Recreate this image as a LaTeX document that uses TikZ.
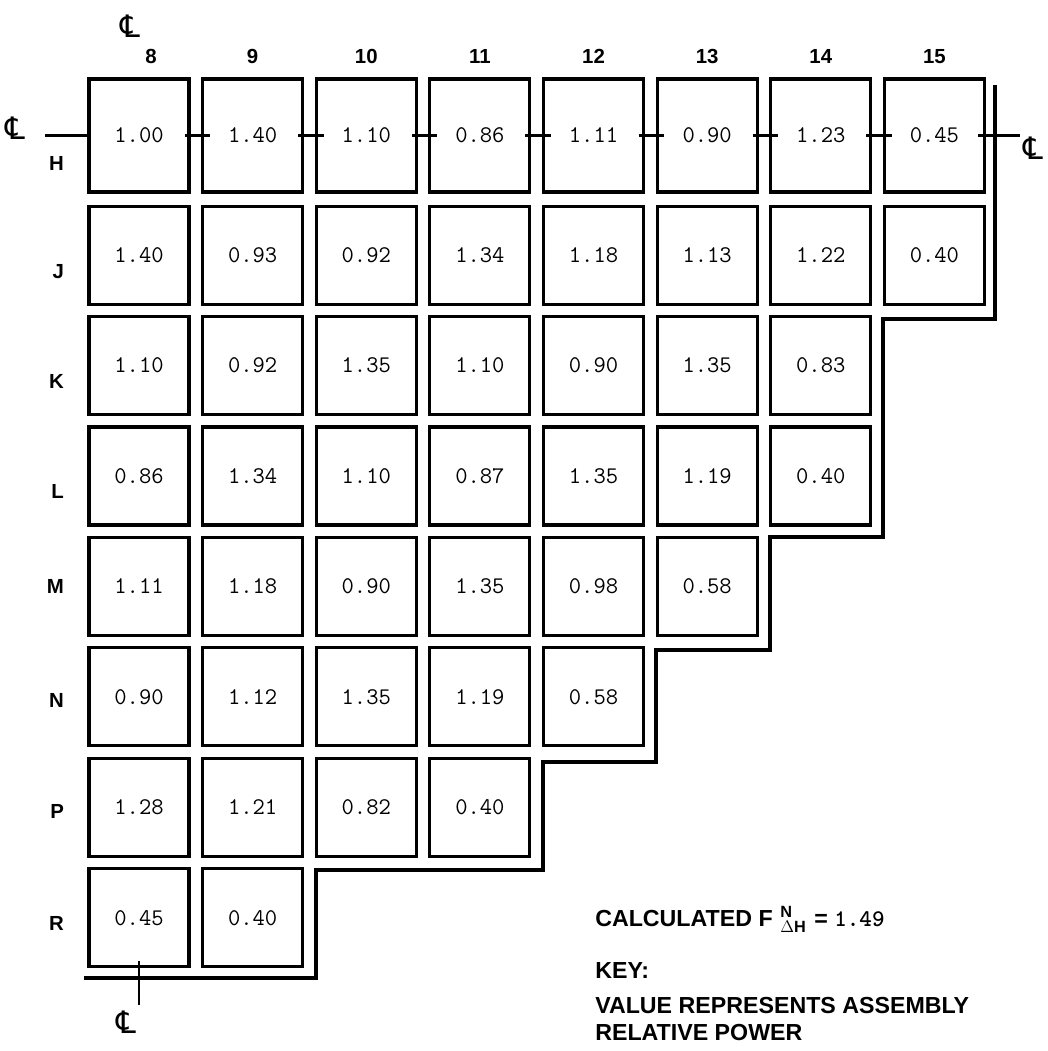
\documentclass[tikz,border=0pt]{standalone}
\usepackage{amsmath}
\usepackage{fontspec}
\setsansfont{Liberation Sans}
\newfontfamily\clfont{DejaVu Sans}
\usetikzlibrary{calc,positioning}

\begin{document}
\begin{tikzpicture}[x=0.025cm, y=-0.025cm, on grid,
			cell/.style={draw, line width=2.2pt, minimum width=2.5cm, minimum height=2.45cm, inner sep=0pt, font=\fontsize{17}{20}\selectfont\ttfamily, node distance={2.76cm and 2.84cm}},
			hcell/.style={cell, minimum height=2.825cm},
			collabel/.style={font=\sffamily\bfseries\fontsize{14.5}{16}\selectfont, inner sep=0pt},
			rowlabel/.style={font=\sffamily\bfseries\fontsize{14.5}{16}\selectfont, inner sep=0pt},
			clsym/.style={font=\clfont\fontsize{22}{24}\selectfont, inner sep=0pt},
			cline/.style={line width=2pt},
			baffle/.style={line width=2.2pt},
			keytext/.style={font=\sffamily\bfseries\fontsize{16.5}{19}\selectfont, inner sep=0pt}
			]
			\useasboundingbox (0,0) rectangle (1047,1051);
			% row H
			\node [hcell] (h8) at (139,135.5) {1.00};
			\node [hcell, right=of h8] (h9) {1.40};
			\node [hcell, right=of h9] (h10) {1.10};
			\node [hcell, right=of h10] (h11) {0.86};
			\node [hcell, right=of h11] (h12) {1.11};
			\node [hcell, right=of h12] (h13) {0.90};
			\node [hcell, right=of h13] (h14) {1.23};
			\node [hcell, right=of h14] (h15) {0.45};
			% row J
			\node [cell, below=2.99cm of h8] (j8) {1.40};
			\node [cell, right=of j8] (j9) {0.93};
			\node [cell, right=of j9] (j10) {0.92};
			\node [cell, right=of j10] (j11) {1.34};
			\node [cell, right=of j11] (j12) {1.18};
			\node [cell, right=of j12] (j13) {1.13};
			\node [cell, right=of j13] (j14) {1.22};
			\node [cell, right=of j14] (j15) {0.40};
			% row K
			\node [cell, below=of j8] (k8) {1.10};
			\node [cell, right=of k8] (k9) {0.92};
			\node [cell, right=of k9] (k10) {1.35};
			\node [cell, right=of k10] (k11) {1.10};
			\node [cell, right=of k11] (k12) {0.90};
			\node [cell, right=of k12] (k13) {1.35};
			\node [cell, right=of k13] (k14) {0.83};
			% row L
			\node [cell, below=of k8] (l8) {0.86};
			\node [cell, right=of l8] (l9) {1.34};
			\node [cell, right=of l9] (l10) {1.10};
			\node [cell, right=of l10] (l11) {0.87};
			\node [cell, right=of l11] (l12) {1.35};
			\node [cell, right=of l12] (l13) {1.19};
			\node [cell, right=of l13] (l14) {0.40};
			% row M
			\node [cell, below=of l8] (m8) {1.11};
			\node [cell, right=of m8] (m9) {1.18};
			\node [cell, right=of m9] (m10) {0.90};
			\node [cell, right=of m10] (m11) {1.35};
			\node [cell, right=of m11] (m12) {0.98};
			\node [cell, right=of m12] (m13) {0.58};
			% row N
			\node [cell, below=of m8] (n8) {0.90};
			\node [cell, right=of n8] (n9) {1.12};
			\node [cell, right=of n9] (n10) {1.35};
			\node [cell, right=of n10] (n11) {1.19};
			\node [cell, right=of n11] (n12) {0.58};
			% row P
			\node [cell, below=of n8] (p8) {1.28};
			\node [cell, right=of p8] (p9) {1.21};
			\node [cell, right=of p9] (p10) {0.82};
			\node [cell, right=of p10] (p11) {0.40};
			% row R
			\node [cell, below=of p8] (r8) {0.45};
			\node [cell, right=of r8] (r9) {0.40};

			% column and row labels
			\node [collabel, above=0.33cm of h8.north, xshift=0.3cm] (c8) {8};
			\node [collabel, above=0.33cm of h9.north] (c9) {9};
			\node [collabel, above=0.33cm of h10.north] (c10) {10};
			\node [collabel, above=0.33cm of h11.north] (c11) {11};
			\node [collabel, above=0.33cm of h12.north] (c12) {12};
			\node [collabel, above=0.33cm of h13.north] (c13) {13};
			\node [collabel, above=0.33cm of h14.north] (c14) {14};
			\node [collabel, above=0.33cm of h15.north] (c15) {15};
			\node [rowlabel, left=0.58cm of h8.west, yshift=-0.7cm] (rh) {H};
			\node [rowlabel, left=0.58cm of j8.west, yshift=-0.4cm] (rj) {J};
			\node [rowlabel, left=0.58cm of k8.west, yshift=-0.4cm] (rk) {K};
			\node [rowlabel, left=0.58cm of l8.west, yshift=-0.38cm] (rl) {L};
			\node [rowlabel, left=0.58cm of m8.west] (rm) {M};
			\node [rowlabel, left=0.58cm of n8.west, yshift=-0.1cm] (rn) {N};
			\node [rowlabel, left=0.58cm of p8.west, yshift=-0.1cm] (rp) {P};
			\node [rowlabel, left=0.58cm of r8.west, yshift=-0.15cm] (rr) {R};

			% centre lines
			\node [clsym] (clt) at (130,26) {℄};
			\node [clsym] (cll) at (15,128) {℄};
			\node [clsym] (clr) at (1033,148) {℄};
			\node [clsym] (clb) at (126,1022) {℄};
			\coordinate (clw) at (45,135.5);
			\coordinate (cle) at (1020,135.5);
			\coordinate (cls) at (139,1005);
			\draw [cline] (clw) -- (h8.west);
			\draw [cline] ([xshift=-0.15cm]h8.east) -- ([xshift=0.22cm]h9.west);
			\draw [cline] ([xshift=-0.15cm]h9.east) -- ([xshift=0.22cm]h10.west);
			\draw [cline] ([xshift=-0.15cm]h10.east) -- ([xshift=0.22cm]h11.west);
			\draw [cline] ([xshift=-0.15cm]h11.east) -- ([xshift=0.22cm]h12.west);
			\draw [cline] ([xshift=-0.15cm]h12.east) -- ([xshift=0.22cm]h13.west);
			\draw [cline] ([xshift=-0.15cm]h13.east) -- ([xshift=0.22cm]h14.west);
			\draw [cline] ([xshift=-0.15cm]h14.east) -- ([xshift=0.22cm]h15.west);
			\draw [cline] ([xshift=-0.2cm]h15.east) -- (cle);
			\draw [cline] ([yshift=0.18cm]r8.south) -- (cls);

			% baffle outline
			\draw [baffle] (995,85) -- (995,319) -- (883,319) -- (883,537) -- (770,537) -- (770,650)
				-- (656,650) -- (656,762) -- (543,762) -- (543,870) -- (316,870) -- (316,978) -- (84,978);

			% key
			\node [keytext, anchor=base west] (fdh) at (595,926) {CALCULATED F\,\,$^{\text{N}}_{\Delta\text{H}}$\,\,= \texttt{\fontsize{17}{20}\selectfont 1.49}};
			\node [keytext, anchor=base west] (key) at (595,978) {KEY:};
			\node [keytext, anchor=north west, align=left] (keyval) at (595,997) {VALUE REPRESENTS ASSEMBLY\\RELATIVE POWER};
		\end{tikzpicture}
\end{document}
